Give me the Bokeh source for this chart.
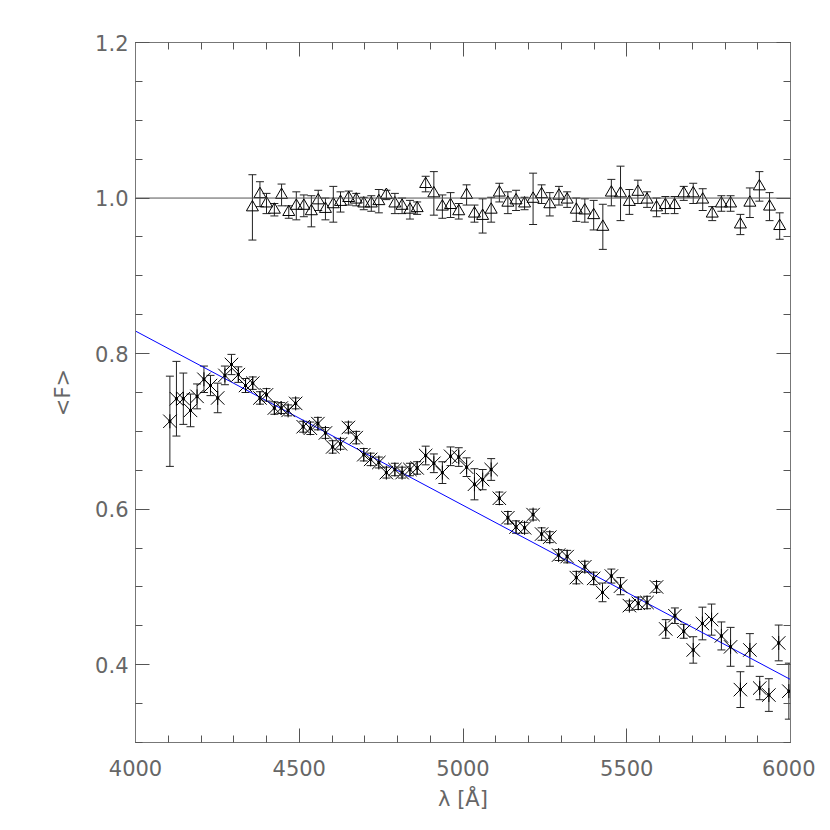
import numpy as np
from bokeh.plotting import figure
from bokeh.models import (ColumnDataSource, Whisker, TeeHead, LinearAxis,
                          FixedTicker, Span, CustomJSTickFormatter,
                          NumeralTickFormatter)
from bokeh.embed import file_html
from bokeh.resources import INLINE

# ---------------- data ----------------
# lower series (asterisks): wavelength, <F>, error
low_x = [4105, 4125, 4146, 4168, 4188, 4209, 4229, 4251, 4273, 4293,
         4314, 4336, 4358, 4380, 4400, 4424, 4445, 4466, 4489, 4512,
         4534, 4557, 4580, 4602, 4626, 4650, 4674, 4697, 4718, 4743,
         4766, 4792, 4814, 4838, 4860, 4886, 4911, 4937, 4962, 4987,
         5011, 5035, 5060, 5086, 5111, 5137, 5162, 5188, 5214, 5240,
         5265, 5292, 5318, 5346, 5372, 5399, 5426, 5453, 5481, 5508,
         5535, 5562, 5591, 5619, 5647, 5674, 5703, 5731, 5759, 5789,
         5817, 5847, 5876, 5906, 5934, 5964, 5995]
low_y = [0.713, 0.742, 0.742, 0.727, 0.745, 0.767, 0.759, 0.743, 0.772, 0.786,
         0.773, 0.759, 0.762, 0.743, 0.747, 0.730, 0.730, 0.727, 0.736, 0.706,
         0.704, 0.710, 0.698, 0.680, 0.684, 0.705, 0.692, 0.670, 0.664, 0.660,
         0.647, 0.651, 0.647, 0.651, 0.653, 0.669, 0.659, 0.647, 0.668, 0.667,
         0.654, 0.632, 0.638, 0.651, 0.614, 0.589, 0.577, 0.576, 0.593, 0.568,
         0.564, 0.541, 0.539, 0.512, 0.526, 0.511, 0.493, 0.514, 0.501, 0.476,
         0.479, 0.480, 0.500, 0.446, 0.463, 0.443, 0.419, 0.453, 0.458, 0.437,
         0.423, 0.368, 0.419, 0.370, 0.361, 0.428, 0.366]
low_err = [0.058, 0.048, 0.033, 0.021, 0.016, 0.017, 0.013, 0.019, 0.012, 0.013,
           0.010, 0.009, 0.008, 0.008, 0.008, 0.008, 0.007, 0.007, 0.007, 0.007,
           0.008, 0.008, 0.007, 0.008, 0.007, 0.007, 0.008, 0.008, 0.008, 0.007,
           0.007, 0.008, 0.007, 0.008, 0.008, 0.012, 0.012, 0.014, 0.012, 0.012,
           0.012, 0.020, 0.013, 0.014, 0.008, 0.008, 0.008, 0.007, 0.007, 0.008,
           0.007, 0.007, 0.008, 0.008, 0.007, 0.008, 0.012, 0.009, 0.011, 0.006,
           0.008, 0.008, 0.007, 0.012, 0.010, 0.009, 0.017, 0.021, 0.020, 0.018,
           0.025, 0.023, 0.021, 0.015, 0.021, 0.023, 0.036]

# upper series (triangles)
up_x = [4357, 4380, 4400, 4424, 4446, 4468, 4491, 4514, 4537, 4558,
        4580, 4604, 4626, 4651, 4674, 4697, 4720, 4743, 4766, 4792,
        4814, 4838, 4860, 4886, 4911, 4937, 4962, 4987, 5011, 5035,
        5060, 5086, 5111, 5137, 5162, 5188, 5214, 5240, 5265, 5293,
        5318, 5346, 5372, 5399, 5427, 5453, 5481, 5508, 5534, 5562,
        5591, 5618, 5646, 5674, 5703, 5732, 5761, 5789, 5817, 5847,
        5876, 5905, 5936, 5967]
up_y = [0.988, 1.005, 0.993, 0.985, 1.004, 0.982, 0.990, 0.990, 0.983, 0.997,
        0.986, 0.992, 0.995, 1.000, 0.998, 0.993, 0.993, 0.996, 1.004, 0.993,
        0.990, 0.985, 0.987, 1.018, 1.006, 0.989, 0.991, 0.983, 1.004, 0.980,
        0.977, 0.985, 1.007, 0.994, 0.997, 0.993, 0.999, 1.005, 0.992, 1.003,
        0.998, 0.985, 0.984, 0.978, 0.963, 1.007, 1.006, 0.995, 1.008, 0.998,
        0.988, 0.991, 0.991, 1.006, 1.006, 0.998, 0.980, 0.993, 0.993, 0.966,
        0.994, 1.015, 0.989, 0.964]
up_err = [0.042, 0.016, 0.013, 0.008, 0.014, 0.008, 0.018, 0.014, 0.020, 0.013,
          0.014, 0.023, 0.013, 0.009, 0.008, 0.008, 0.010, 0.015, 0.006, 0.013,
          0.010, 0.012, 0.008, 0.010, 0.028, 0.015, 0.016, 0.010, 0.013, 0.011,
          0.022, 0.016, 0.012, 0.014, 0.013, 0.008, 0.033, 0.012, 0.015, 0.012,
          0.010, 0.015, 0.015, 0.019, 0.029, 0.017, 0.035, 0.016, 0.015, 0.010,
          0.012, 0.011, 0.011, 0.009, 0.013, 0.014, 0.009, 0.010, 0.010, 0.013,
          0.019, 0.019, 0.018, 0.017]

# linear fit to the lower series
fit_x = [4000, 6000]
fit_y = [0.829, 0.381]

ref_level = 1.0

x_major = [4000, 4500, 5000, 5500, 6000]
x_minor = list(range(4000, 6001, 100))
y_major = [0.4, 0.6, 0.8, 1.0, 1.2]
y_minor = [round(0.3 + 0.05 * i, 2) for i in range(19)]

# ---------------- plot ----------------
FONT = "DejaVu Sans"
AX = "#777777"
TK = "#555555"
LBL = "#666666"

p = figure(frame_width=655, frame_height=700,
           x_range=(4000, 6000), y_range=(0.3, 1.2),
           output_backend="svg", toolbar_location=None,
           min_border_left=135, min_border_top=42,
           min_border_right=25, min_border_bottom=60)
p.grid.visible = False
p.outline_line_color = AX
p.outline_line_width = 1

xt = FixedTicker(ticks=x_major, minor_ticks=x_minor)
yt = FixedTicker(ticks=y_major, minor_ticks=y_minor)

def style_axis(ax):
    ax.major_tick_in = 14
    ax.major_tick_out = 0
    ax.minor_tick_in = 7
    ax.minor_tick_out = 0
    ax.axis_line_color = AX
    ax.major_tick_line_color = TK
    ax.minor_tick_line_color = TK
    ax.major_label_text_font = FONT
    ax.major_label_text_font_size = "21px"
    ax.major_label_text_color = LBL
    ax.axis_label_text_font = FONT
    ax.axis_label_text_font_size = "21px"
    ax.axis_label_text_font_style = "normal"
    ax.axis_label_text_color = LBL

xa = p.xaxis[0]
xa.ticker = xt
style_axis(xa)
xa.axis_label = "λ [Å]"
xa.major_label_standoff = 17
xa.axis_label_standoff = 8

ya = p.yaxis[0]
ya.ticker = yt
ya.formatter = NumeralTickFormatter(format="0.0")
style_axis(ya)
ya.axis_label = "<F>"
ya.major_label_standoff = 7
ya.axis_label_standoff = 17

ra = LinearAxis(ticker=yt, formatter=CustomJSTickFormatter(code="return ''"))
style_axis(ra)
p.add_layout(ra, "right")
ta = LinearAxis(ticker=xt, formatter=CustomJSTickFormatter(code="return ''"))
style_axis(ta)
p.add_layout(ta, "above")

# reference line at 1.0
p.add_layout(Span(location=ref_level, dimension="width",
                  line_color="#555555", line_width=1))

# fit line
p.line(fit_x, fit_y, line_color="#0000ff", line_width=1)

ly = np.array(low_y)
le = np.array(low_err)
low_src = ColumnDataSource(dict(x=low_x, y=low_y, lo=ly - le, hi=ly + le))
uy = np.array(up_y)
ue = np.array(up_err)
up_src = ColumnDataSource(dict(x=up_x, y=up_y, lo=uy - ue, hi=uy + ue))

EB = "#222222"
for src in (low_src, up_src):
    w = Whisker(base="x", upper="hi", lower="lo", source=src,
                line_color=EB, line_width=1,
                upper_head=TeeHead(size=8, line_color=EB, line_width=1),
                lower_head=TeeHead(size=8, line_color=EB, line_width=1))
    p.add_layout(w)

# asterisks: X + vertical bar + centre dot
p.scatter("x", "y", source=low_src, marker="x", size=19,
          line_color="black", line_width=1)
p.scatter("x", "y", source=low_src, marker="dash", angle=np.pi / 2, size=14,
          line_color="black", line_width=1)
p.scatter("x", "y", source=low_src, marker="square", size=3,
          fill_color="black", line_color=None)

# open triangles
p.scatter("x", "y", source=up_src, marker="triangle", size=12,
          fill_color=None, line_color="black", line_width=1)

open("out.html", "w").write(file_html(p, INLINE))
